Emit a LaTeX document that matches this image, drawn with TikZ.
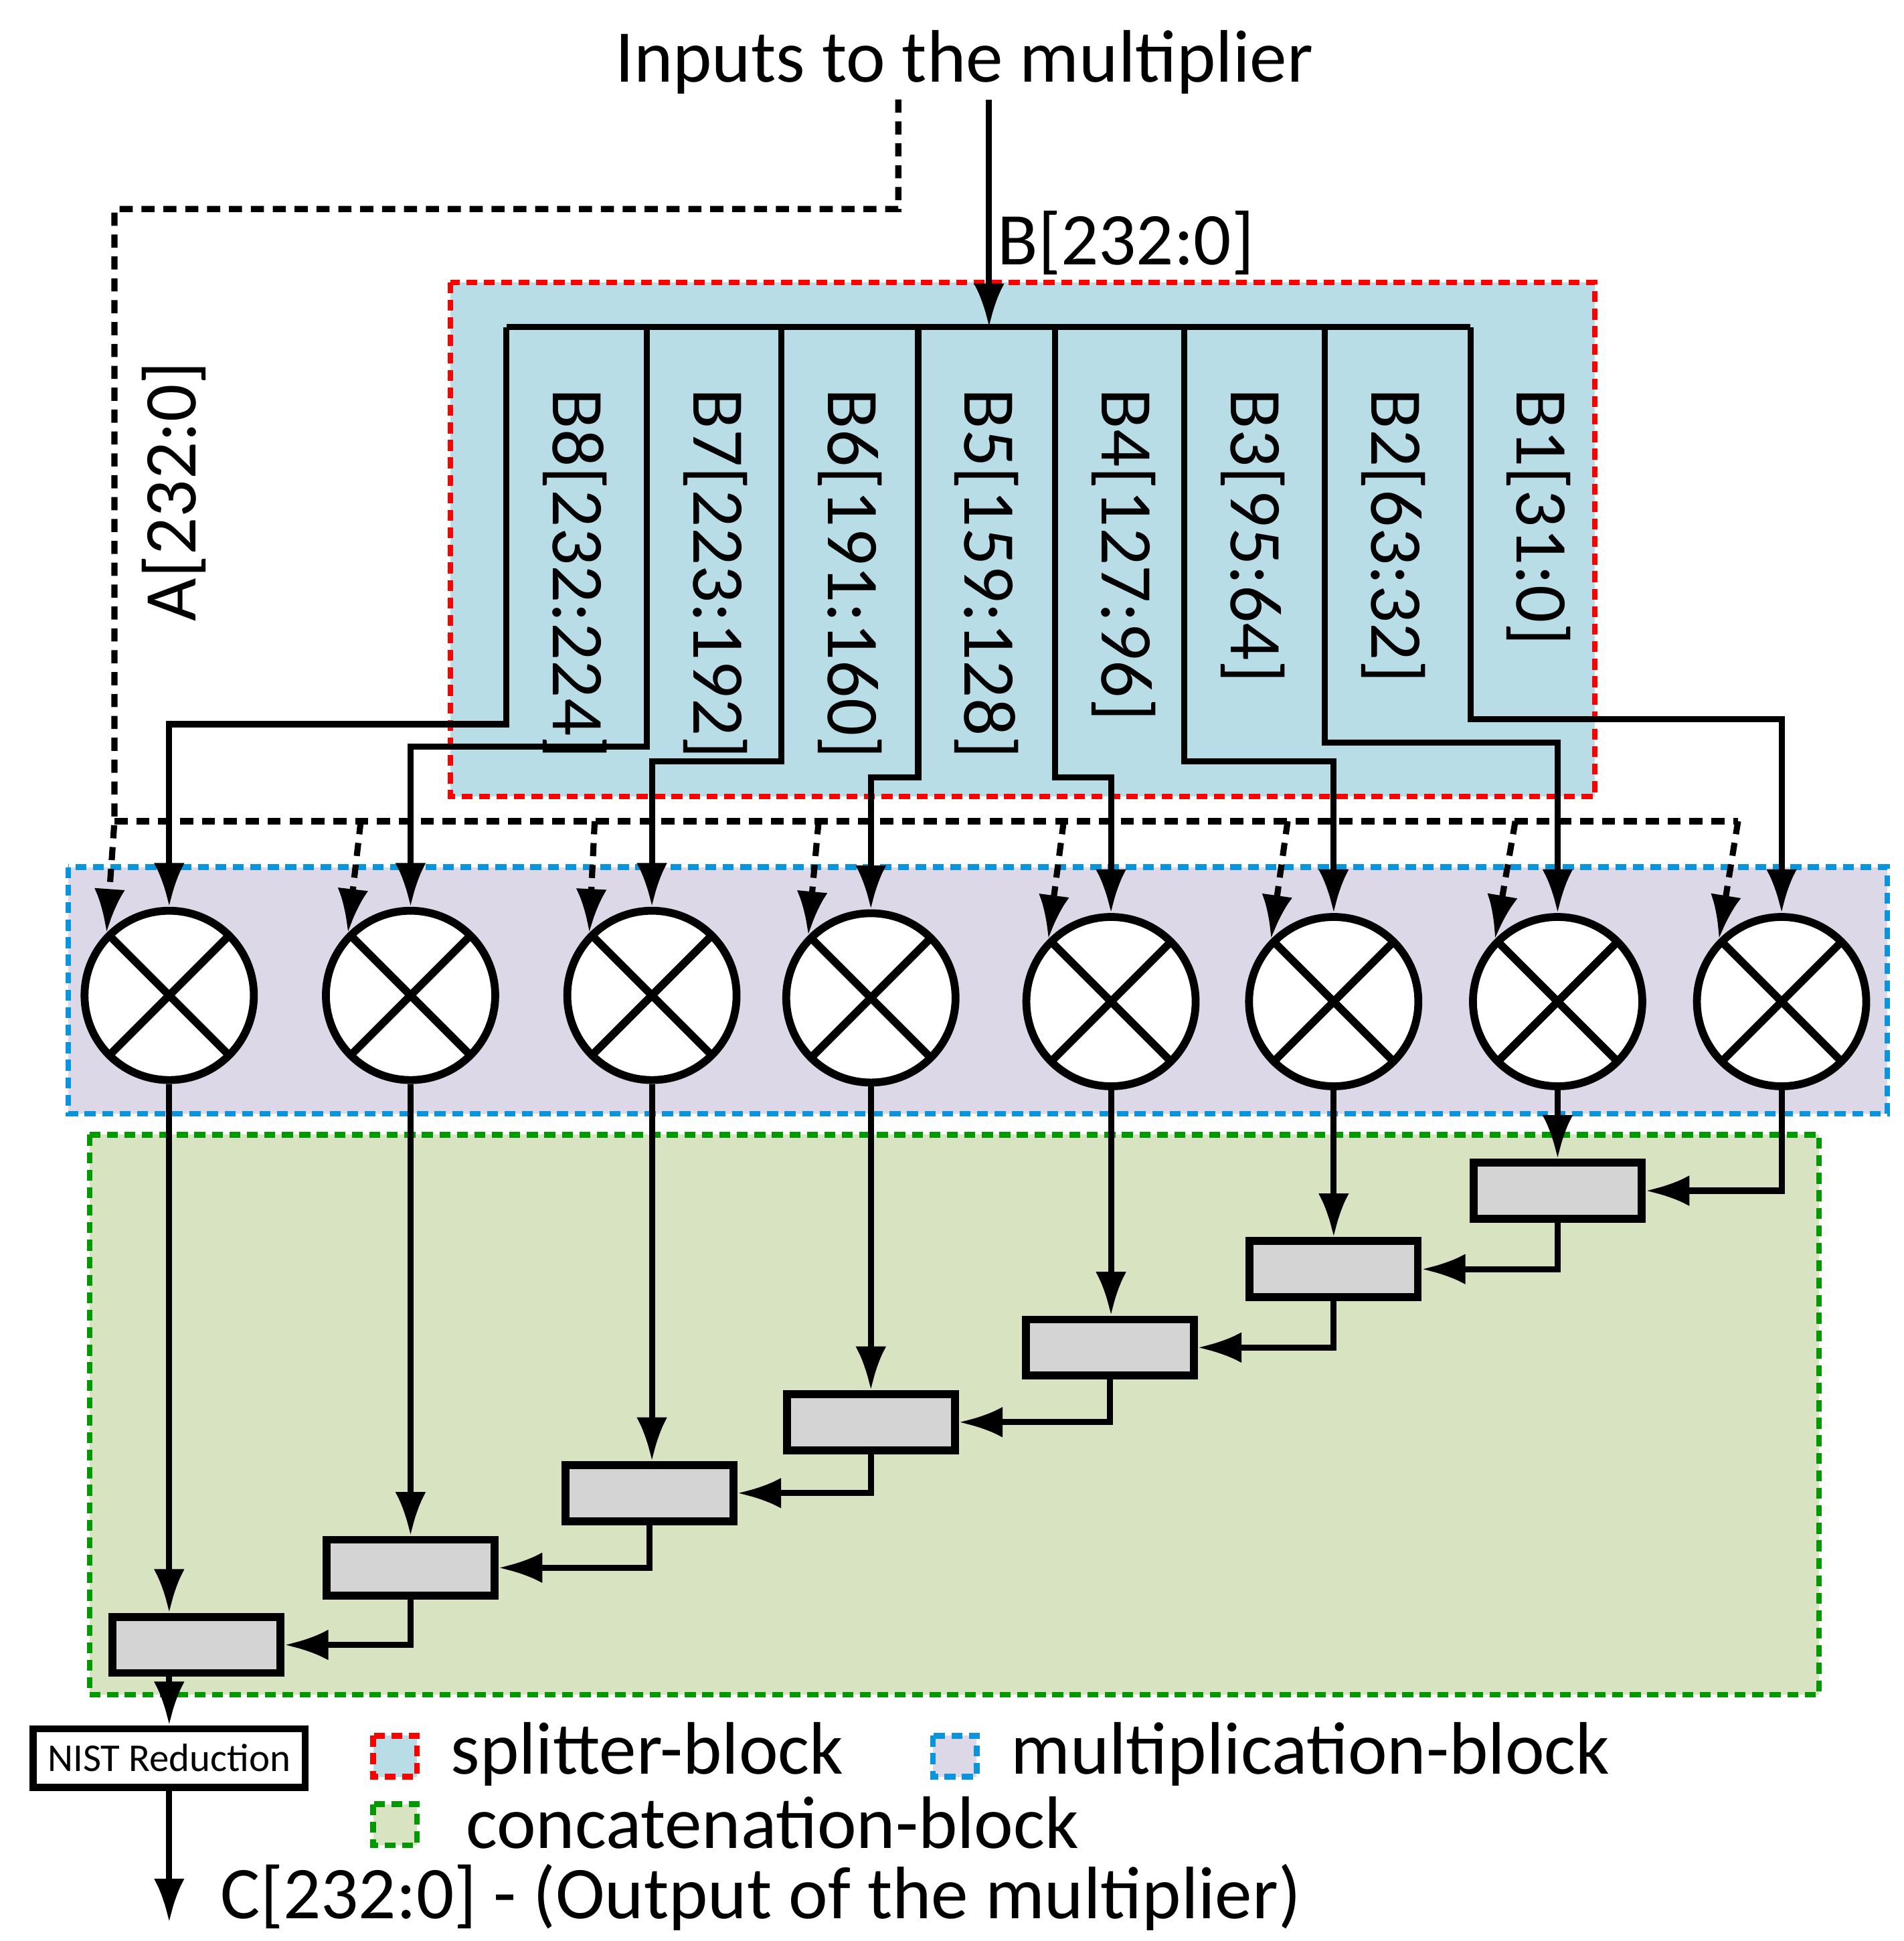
\documentclass[tikz,border=0pt]{standalone}
\usepackage{fontspec}
\setmainfont{Carlito}
\usetikzlibrary{arrows.meta}
\definecolor{splitfill}{HTML}{B8DDE6}
\definecolor{multfill}{HTML}{DDD8E7}
\definecolor{catfill}{HTML}{D7E3C1}
\begin{document}
\begin{tikzpicture}[x=0.01cm,y=-0.01cm,
    font=\fontsize{17}{20}\selectfont,
    wire/.style={line width=1.4pt},
    arr/.style={wire,-{Latex[length=10pt,width=7pt]}},
    darr/.style={arr,dashed,dash pattern=on 3pt off 2pt},
    mult/.style={circle,draw,line width=1.8pt,fill=white,minimum size=1.36cm,inner sep=0pt,
      path picture={\draw[line width=1.8pt] (path picture bounding box.north west)--(path picture bounding box.south east)
        (path picture bounding box.north east)--(path picture bounding box.south west);}},
    cat/.style={draw,line width=1.8pt,fill=black!17,minimum width=1.35cm,minimum height=0.45cm},
    blockbox/.style={dashed,dash pattern=on 2.5pt off 1.5pt,line width=1.3pt}]

  \useasboundingbox (0,0) rectangle (1530,1560);

  % blocks
  \fill[splitfill] (362,227) rectangle (1282,640);
  \draw[blockbox,red] (362,227) rectangle (1282,640);
  \fill[multfill] (55,697) rectangle (1517,895);
  \draw[blockbox,cyan!80!blue] (55,697) rectangle (1517,895);
  \fill[catfill] (72,912) rectangle (1462,1362);
  \draw[blockbox,green!60!black] (72,912) rectangle (1462,1362);

  % inputs
  \node (inputs) at (775,50) {Inputs to the multiplier};
  \coordinate (bin) at (795,80);
  \coordinate (ain) at (722,80);
  \node (blab) at (905,195) {B[232:0]};
  \node[rotate=90] (alab) at (140,395) {A[232:0]};
  \draw[arr] (bin) -- (795,263);
  \draw[wire] (407,263) -- (1182,263);

  % multipliers
  \foreach \x/\y [count=\i] in {136/800,330/800,524/800,700/802,893/805,1072/805,1252/805,1432/805}
    \node[mult] (m\i) at (\x,\y) {};

  % splitter
  \foreach \bx/\by/\name [count=\i] in {407/582/B8[232:224],520/600/B7[223:192],628/612/B6[191:160],
      738/625/B5[159:128],848/625/B4[127:96],952/612/B3[95:64],1065/597/B2[63:32],1182/578/B1[31:0]}{
    \draw[arr] (\bx,263) -- (\bx,\by) -| (m\i.north);
    \node[rotate=-90,anchor=west] (s\i) at (\bx+55,300) {\name};
  }

  % A input
  \draw[darr] (ain) -- (722,168) -- (92,168) -- (92,660) -- (m1.north west);
  \draw[wire,dashed,dash pattern=on 3pt off 2pt] (92,660) -- (1397,660);
  \foreach \x [count=\i from 2] in {290,478,658,855,1035,1218,1397}
    \draw[darr] (\x,660) -- (m\i.north west);

  % concatenation
  \foreach \x/\y [count=\i] in {1252/957,1072/1020,892/1083,700/1143,522/1200,330/1260,158/1322}
    \node[cat] (r\i) at (\x,\y) {};
  \draw[arr] (m8.south) |- (r1.east);
  \foreach \i [evaluate=\i as \j using int(8-\i)] in {1,...,7}
    \draw[arr] (m\j.south) -- (m\j.south |- r\i.north);
  \foreach \i [evaluate=\i as \k using int(\i+1)] in {1,...,6}
    \draw[arr] (r\i.south) |- (r\k.east);

  % reduction and output
  \node[draw,line width=1.6pt,minimum width=1.99cm,minimum height=0.47cm,font=\fontsize{9}{10}\selectfont]
    (nist) at (136,1413) {NIST Reduction};
  \draw[arr] (r7.south -| m1.south) -- (nist.north);
  \coordinate (cout) at (136,1545);
  \draw[arr] (nist.south) -- (cout);
  \node[anchor=west] (clab) at (165,1525) {C[232:0] - (Output of the multiplier)};

  % legend
  \filldraw[blockbox,red,fill=splitfill] (300,1395) rectangle (335,1428);
  \node[anchor=west] (l1) at (350,1410) {splitter-block};
  \filldraw[blockbox,cyan!80!blue,fill=multfill] (750,1395) rectangle (785,1428);
  \node[anchor=west] (l2) at (800,1410) {multiplication-block};
  \filldraw[blockbox,green!60!black,fill=catfill] (300,1450) rectangle (335,1483);
  \node[anchor=west] (l3) at (362,1465) {concatenation-block};
\end{tikzpicture}
\end{document}
